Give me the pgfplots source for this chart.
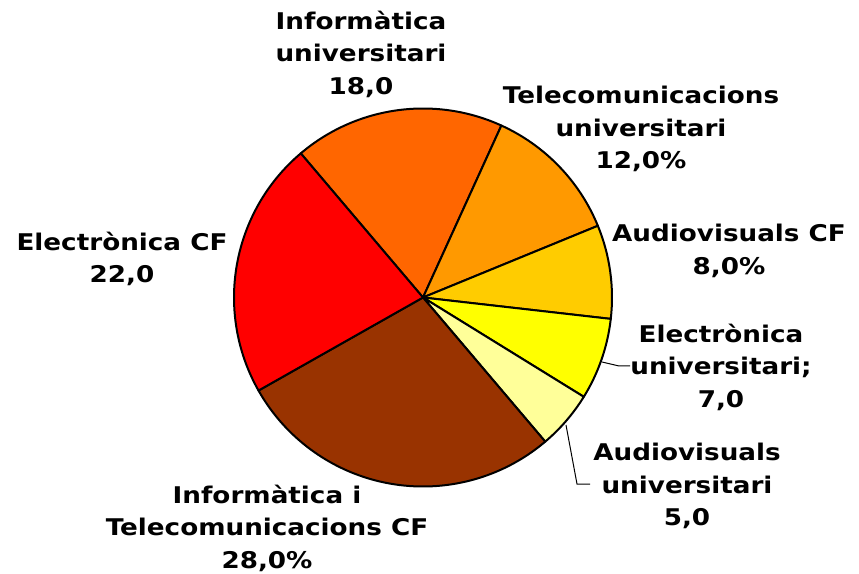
\documentclass[border=0pt]{standalone}
\usepackage{pgfplots}
\pgfplotsset{compat=1.18}
\usepackage{fontspec}
\setmainfont[FakeStretch=1.14]{DejaVu Sans}
\definecolor{c1}{HTML}{FF6600}
\definecolor{c2}{HTML}{FF9900}
\definecolor{c3}{HTML}{FFCC00}
\definecolor{c4}{HTML}{FFFF00}
\definecolor{c5}{HTML}{FFFF99}
\definecolor{c6}{HTML}{993300}
\definecolor{c7}{HTML}{FF0000}
\begin{document}
\begin{tikzpicture}
\begin{axis}[
  scale only axis, width=859pt, height=573pt,
  xmin=0, xmax=859, ymin=0, ymax=573,
  hide axis, clip=false,
]
\pgfplotsextra{
  \path (axis cs:0,0) rectangle (axis cs:859,573);
  \foreach \v/\c [remember=\e as \s (initially 130.3), evaluate=\v as \e using \s-\v*3.6] in
    {18/c1, 12/c2, 8/c3, 7/c4, 5/c5, 28/c6, 22/c7}{
    \filldraw[fill=\c, draw=black, line width=2pt, line join=round]
      (axis cs:423,275.5) -- ++(\s:189pt) arc[start angle=\s, end angle=\e, radius=189pt] -- cycle;
  }
  \draw[black, line width=1pt] (axis cs:602,211) -- (axis cs:619,207) -- (axis cs:630,207);
  \draw[black, line width=1pt] (axis cs:566,148) -- (axis cs:577,89) -- (axis cs:590,89);
}
\tikzset{lab/.style={align=center, font=\fontsize{23}{32.5}\selectfont\bfseries, inner sep=0pt}}
\node[lab] at (axis cs:361,519) {Informàtica\\universitari\\18,0};
\node[lab] at (axis cs:641,444) {Telecomunicacions\\universitari\\12,0\%};
\node[lab] at (axis cs:729,322) {Audiovisuals CF\\8,0\%};
\node[lab] at (axis cs:721,206) {Electrònica\\universitari;\\7,0};
\node[lab] at (axis cs:687,87) {Audiovisuals\\universitari\\5,0};
\node[lab] at (axis cs:267,45) {Informàtica i\\Telecomunicacions CF\\28,0\%};
\node[lab] at (axis cs:122,314) {Electrònica CF\\22,0};
\end{axis}
\end{tikzpicture}
\end{document}
